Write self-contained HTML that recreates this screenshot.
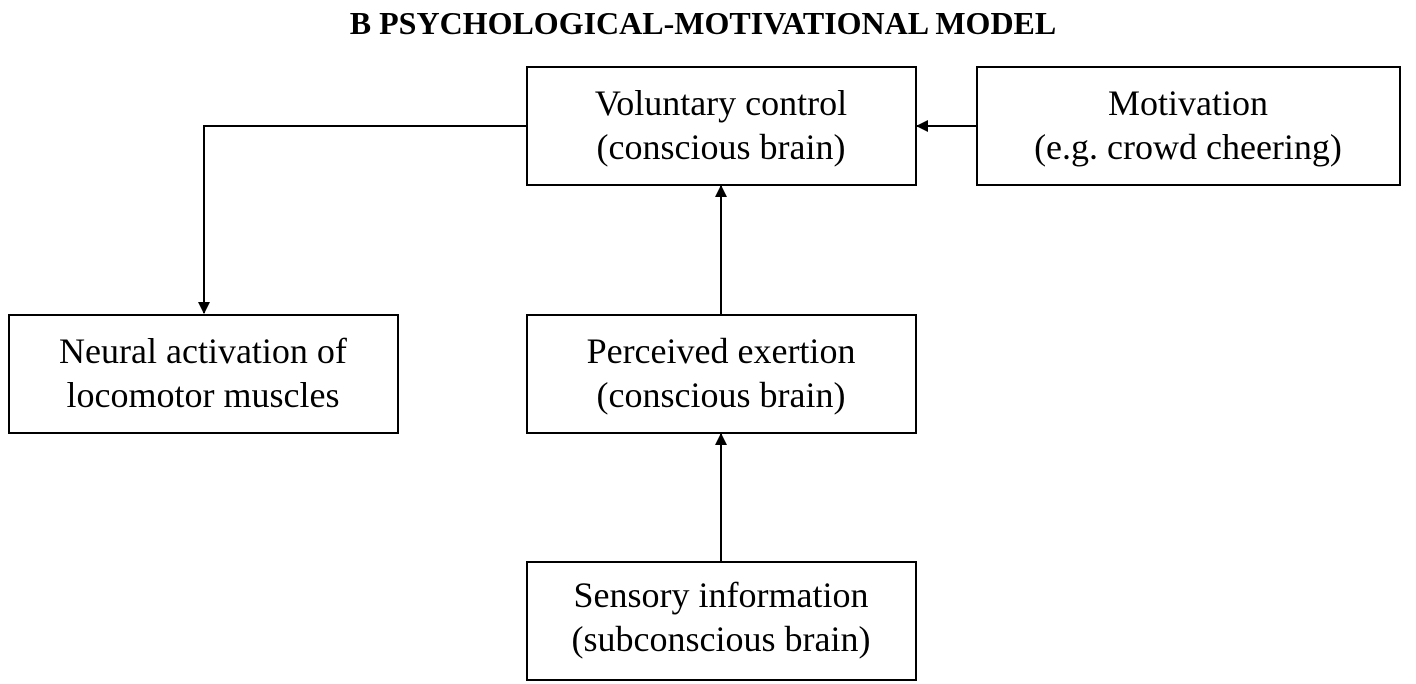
<!DOCTYPE html>
<html><head><style>
html,body{margin:0;padding:0;background:#fff;width:1416px;height:684px;overflow:hidden}
</style></head><body>
<svg width="1416" height="684" viewBox="0 0 1416 684" xmlns="http://www.w3.org/2000/svg" font-family="Liberation Serif, serif">
<defs><marker id="a" markerWidth="12" markerHeight="12" refX="11" refY="6" orient="auto" markerUnits="userSpaceOnUse"><path d="M0,0 L12,6 L0,12 Z" fill="#000"/></marker></defs>
<text x="703" y="34" text-anchor="middle" font-weight="bold" font-size="32">B  PSYCHOLOGICAL-MOTIVATIONAL MODEL</text>
<g fill="#fff" stroke="#000" stroke-width="2">
<rect x="527" y="67" width="389" height="118"/>
<rect x="977" y="67" width="423" height="118"/>
<rect x="9" y="315" width="389" height="118"/>
<rect x="527" y="315" width="389" height="118"/>
<rect x="527" y="562" width="389" height="118"/>
</g>
<g stroke="#000" stroke-width="2" fill="none">
<polyline points="527,126 204,126 204,313" marker-end="url(#a)"/>
<line x1="977" y1="126" x2="917" y2="126" marker-end="url(#a)"/>
<line x1="721" y1="315" x2="721" y2="186" marker-end="url(#a)"/>
<line x1="721" y1="562" x2="721" y2="434" marker-end="url(#a)"/>
</g>
<g font-size="36" text-anchor="middle" fill="#000">
<text x="721" y="115">Voluntary control</text>
<text x="721" y="159">(conscious brain)</text>
<text x="1188" y="115">Motivation</text>
<text x="1188" y="159">(e.g. crowd cheering)</text>
<text x="203" y="363">Neural activation of</text>
<text x="203" y="407">locomotor muscles</text>
<text x="721" y="363">Perceived exertion</text>
<text x="721" y="407">(conscious brain)</text>
<text x="721" y="607">Sensory information</text>
<text x="721" y="651">(subconscious brain)</text>
</g>
</svg>
</body></html>
